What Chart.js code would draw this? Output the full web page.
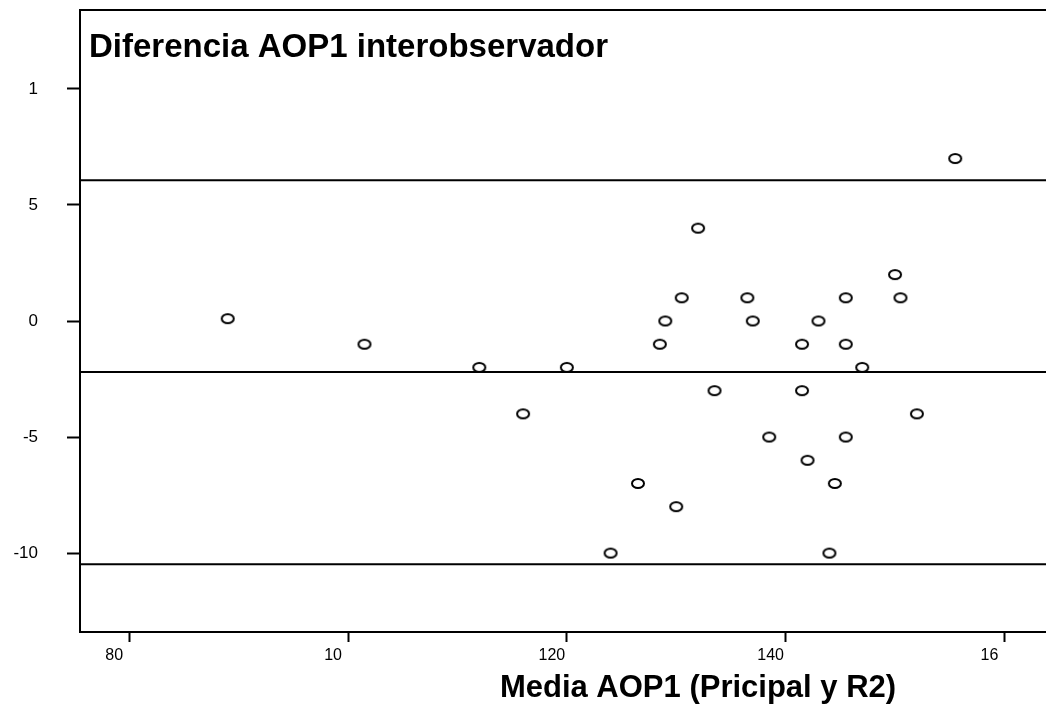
<!DOCTYPE html>
<html>
<head>
<meta charset="utf-8">
<title>Diferencia AOP1 interobservador</title>
<script src="https://cdn.jsdelivr.net/npm/chart.js@4/dist/chart.umd.min.js"></script>
<style>
  html, body { margin: 0; padding: 0; background: #fff; }
  #wrap { width: 1046px; height: 706px; position: relative; }
</style>
</head>
<body>
<div id="wrap"><canvas id="blandAltman"></canvas></div>
<script>
// Medias (eje X) y diferencias (eje Y) de cada paciente
const mediaAOP1 = [89, 101.5, 112, 116, 120, 124, 126.5, 128.5, 129, 130, 130.5, 132, 133.5, 136.5, 137, 138.5,
                   141.5, 141.5, 142, 143, 144, 144.5, 145.5, 145.5, 145.5, 147, 150, 150.5, 152, 155.5];
const difAOP1 = [0.1, -1, -2, -4, -2, -10, -7, -1, 0, -8, 1, 4, -3, 1, 0, -5,
                 -1, -3, -6, 0, -10, -7, 1, -1, -5, -2, 2, 1, -4, 7];

// Límites de acuerdo
const mediaDif = -2.2;
const limiteSup = 6.06;
const limiteInf = -10.48;

// Ejes
const xMin = 75.5, xMax = 163.8;
const yMin = -13.4, yMax = 13.4;
const xTicks = [80, 100, 120, 140, 160];
const xTickLabels = ["80", "10", "120", "140", "16"];
const yTicks = [10, 5, 0, -5, -10];
const yTickLabels = ["1", "5", "0", "-5", "-10"];

const tituloY = "Diferencia AOP1 interobservador";
const tituloX = "Media AOP1 (Pricipal y R2)";

// Marcador: elipse hueca
function crearElipse() {
    const c = document.createElement("canvas");
    c.width = 16;
    c.height = 13;
    const g = c.getContext("2d");
    g.lineWidth = 2;
    g.strokeStyle = "#000";
    g.beginPath();
    g.ellipse(8, 6.5, 6, 4.6, 0, 0, Math.PI * 2);
    g.stroke();
    return c;
}

function lineaH(y) {
    return {
        type: "line",
        data: [{ x: xMin, y: y }, { x: xMax, y: y }],
        borderColor: "#000",
        borderWidth: 2,
        pointRadius: 0,
        pointHoverRadius: 0,
        fill: false
    };
}

// Títulos y borde superior
const extras = {
    id: "extras",
    afterDraw(chart) {
        const { ctx, chartArea } = chart;
        ctx.save();
        ctx.strokeStyle = "#000";
        ctx.lineWidth = 2;
        ctx.beginPath();
        ctx.moveTo(chartArea.left, chartArea.top);
        ctx.lineTo(chartArea.right, chartArea.top);
        ctx.stroke();

        ctx.fillStyle = "#000";
        ctx.textBaseline = "alphabetic";
        ctx.textAlign = "left";
        ctx.font = "bold 33px 'Liberation Sans', Arial, sans-serif";
        ctx.fillText(tituloY, 89, 57);

        ctx.textAlign = "center";
        ctx.font = "bold 31px 'Liberation Sans', Arial, sans-serif";
        ctx.fillText(tituloX, 698, 697);
        ctx.restore();
    }
};

// Sin relleno automático alrededor del área del gráfico
function sinPadding(s) {
    s.paddingTop = 0;
    s.paddingBottom = 0;
    s.paddingLeft = 0;
    s.paddingRight = 0;
}

const ctx = document.getElementById("blandAltman").getContext("2d");

new Chart(ctx, {
    type: "scatter",
    data: {
        datasets: [
            {
                data: mediaAOP1.map((m, i) => ({ x: m, y: difAOP1[i] })),
                pointStyle: crearElipse(),
                pointRadius: 6,
                pointHoverRadius: 6
            },
            lineaH(limiteSup),
            lineaH(mediaDif),
            lineaH(limiteInf)
        ]
    },
    options: {
        responsive: true,
        maintainAspectRatio: false,
        animation: false,
        layout: { autoPadding: false, padding: { top: 10, right: 0, left: 0, bottom: 0 } },
        plugins: {
            legend: { display: false },
            tooltip: { enabled: false }
        },
        scales: {
            x: {
                type: "linear",
                min: xMin,
                max: xMax,
                afterBuildTicks: s => { s.ticks = xTicks.map(v => ({ value: v })); },
                afterFit: s => { s.height = 74; sinPadding(s); },
                border: { display: true, color: "#000", width: 2 },
                grid: { drawOnChartArea: false, tickLength: 10, tickColor: "#000", tickWidth: 2 },
                ticks: {
                    color: "#000",
                    padding: 4,
                    labelOffset: -15,
                    maxRotation: 0,
                    font: { family: "'Liberation Sans', Arial, sans-serif", size: 16 },
                    callback: v => xTickLabels[xTicks.indexOf(v)]
                }
            },
            y: {
                type: "linear",
                min: yMin,
                max: yMax,
                afterBuildTicks: s => { s.ticks = yTicks.map(v => ({ value: v })); },
                afterFit: s => { s.width = 80; sinPadding(s); },
                border: { display: true, color: "#000", width: 2 },
                grid: { drawOnChartArea: false, tickLength: 13, tickColor: "#000", tickWidth: 2 },
                ticks: {
                    color: "#000",
                    padding: 29,
                    font: { family: "'Liberation Sans', Arial, sans-serif", size: 17 },
                    callback: v => yTickLabels[yTicks.indexOf(v)]
                }
            }
        }
    },
    plugins: [extras]
});
</script>
</body>
</html>
